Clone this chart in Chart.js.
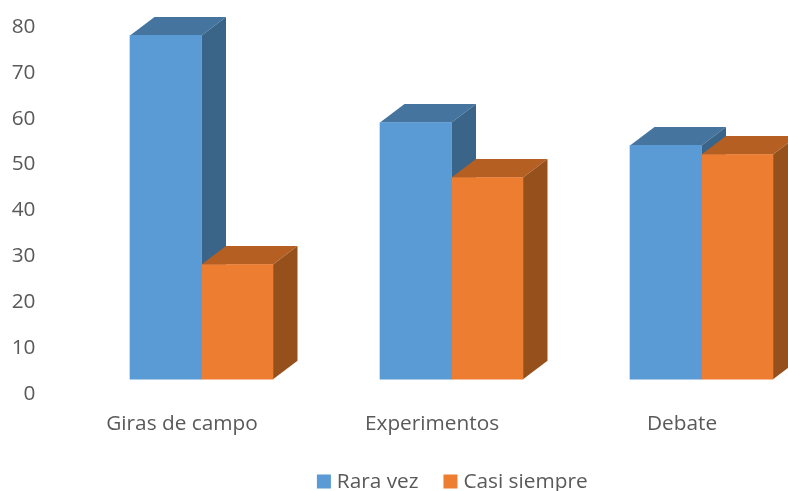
<!DOCTYPE html>
<html lang="es">
  <head>
    <meta charset="UTF-8" />
    <title>Giras de campo, Experimentos, Debate</title>
    <script src="https://cdn.jsdelivr.net/npm/chart.js"></script>
    <style>
      html, body { margin: 0; padding: 0; background: #fff; overflow: hidden; height: 491px; }
      canvas { display: block; }
    </style>
  </head>
  <body>
    <canvas id="chart" width="909" height="502"></canvas>
    <script>
      const categories = ["Giras de campo", "Experimentos", "Debate"];
      const raraVez = [75, 56, 51];
      const casiSiempre = [25, 44, 49];
      const tickMin = 0;
      const tickMax = 80;
      const tickStep = 10;

      const fontFamily = "'Open Sans', sans-serif";
      const fontSize = 20.8;
      const textColor = "#595959";

      // Profundidad de las caras laterales (px)
      const depthX = 24.5;
      const depthY = 18.5;

      const faces = [
        { side: "#3A6588", top: "#45749F" },
        { side: "#96501C", top: "#B65F22" },
      ];

      // Dibuja cara superior y lateral antes de las barras
      const bars3d = {
        id: "bars3d",
        beforeDatasetsDraw(chart) {
          const ctx = chart.ctx;
          chart.data.datasets.forEach((ds, i) => {
            chart.getDatasetMeta(i).data.forEach((bar) => {
              const left = bar.x - bar.width / 2;
              const right = bar.x + bar.width / 2;
              const top = bar.y;
              const bottom = bar.base;

              ctx.fillStyle = faces[i].top;
              ctx.beginPath();
              ctx.moveTo(left, top);
              ctx.lineTo(left + depthX, top - depthY);
              ctx.lineTo(right + depthX, top - depthY);
              ctx.lineTo(right, top);
              ctx.closePath();
              ctx.fill();

              ctx.fillStyle = faces[i].side;
              ctx.beginPath();
              ctx.moveTo(right, top);
              ctx.lineTo(right + depthX, top - depthY);
              ctx.lineTo(right + depthX, bottom - depthY);
              ctx.lineTo(right, bottom);
              ctx.closePath();
              ctx.fill();
            });
          });
        },
      };

      new Chart(document.getElementById("chart"), {
        type: "bar",
        data: {
          labels: categories,
          datasets: [
            {
              label: "Rara vez",
              data: raraVez,
              backgroundColor: "#5B9BD5",
              yAxisID: "yBars",
              barThickness: 71.5,
            },
            {
              label: "Casi siempre",
              data: casiSiempre,
              backgroundColor: "#ED7D31",
              yAxisID: "yBars",
              barThickness: 71.5,
            },
          ],
        },
        options: {
          responsive: false,
          animation: false,
          layout: { padding: { top: 27, right: 0, left: 0, bottom: 0 } },
          scales: {
            x: {
              grid: { display: false, drawTicks: false },
              border: { display: false },
              afterFit(scale) { scale.height = 48; },
              ticks: {
                color: textColor,
                font: { family: fontFamily, size: fontSize },
                labelOffset: -19.5,
                padding: 18,
                maxRotation: 0,
              },
            },
            y: {
              position: "left",
              min: tickMin,
              max: tickMax,
              grid: { display: false, drawTicks: false },
              border: { display: false },
              afterFit(scale) {
                scale.width = 76.5;
                scale.paddingTop = 0;
                scale.paddingBottom = 0;
              },
              ticks: {
                stepSize: tickStep,
                color: textColor,
                font: { family: fontFamily, size: fontSize },
                padding: 41,
              },
            },
            // Las barras arrancan por encima del 0 rotulado, como en el 3D original.
            // Eje sin rótulos a la derecha: reserva el hueco para centrar la leyenda.
            yBars: {
              position: "right",
              min: -3.17,
              max: 76.83,
              grid: { display: false, drawTicks: false },
              border: { display: false },
              ticks: { display: false },
              afterFit(scale) { scale.width = 82.5; },
            },
          },
          plugins: {
            title: { display: false },
            tooltip: { enabled: false },
            legend: {
              position: "bottom",
              labels: {
                color: textColor,
                font: { family: fontFamily, size: fontSize },
                usePointStyle: true,
                pointStyle: "rect",
                boxWidth: 5,
                boxHeight: 14,
                padding: 29.5,
              },
            },
          },
        },
        plugins: [bars3d],
      });
    </script>
  </body>
</html>
